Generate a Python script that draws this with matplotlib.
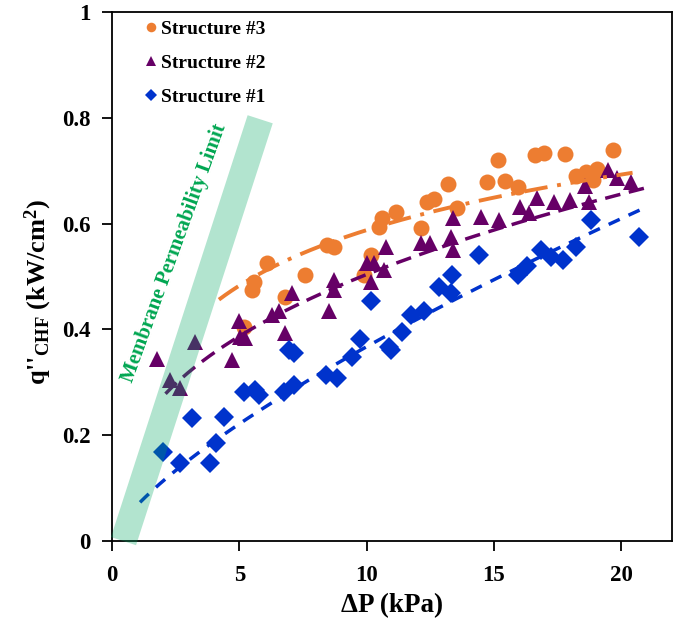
import numpy as np
import matplotlib

matplotlib.use("Agg")
import matplotlib.pyplot as plt  # noqa: E402

plt.rcParams["font.family"] = ["Liberation Serif", "DejaVu Serif"]
plt.rcParams["mathtext.default"] = "regular"

# --- data (dP in kPa, q''CHF in kW/cm2) ---
s3_x = [5.17, 5.50, 5.56, 6.09, 6.81, 7.60, 8.45, 8.71, 9.90, 10.16, 10.49, 10.62,
        11.14, 12.15, 12.39, 12.65, 13.18, 13.54, 14.75, 15.17, 15.45, 15.93,
        16.61, 16.98, 17.81, 18.23, 18.62, 18.90, 19.06, 19.70]
s3_y = [0.405, 0.474, 0.490, 0.525, 0.462, 0.503, 0.560, 0.556, 0.503, 0.540, 0.594,
        0.610, 0.622, 0.592, 0.641, 0.646, 0.674, 0.629, 0.679, 0.720, 0.680, 0.669,
        0.730, 0.733, 0.732, 0.689, 0.698, 0.682, 0.703, 0.739]

s2_x = [1.76, 2.28, 2.68, 3.27, 4.71, 4.97, 5.04, 5.24, 6.29, 6.55, 6.81, 7.07,
        8.52, 8.71, 8.71, 10.03, 10.16, 10.29, 10.68, 10.75, 12.15, 12.50, 13.31,
        13.41, 13.41, 14.49, 15.21, 16.04, 16.40, 16.69, 17.35, 18.00, 18.58,
        18.75, 19.47, 19.84, 20.39]
s2_y = [0.345, 0.304, 0.289, 0.377, 0.342, 0.415, 0.386, 0.383, 0.427, 0.434, 0.393,
        0.468, 0.434, 0.474, 0.493, 0.525, 0.490, 0.525, 0.512, 0.556, 0.563, 0.563,
        0.575, 0.610, 0.550, 0.613, 0.607, 0.632, 0.620, 0.648, 0.641, 0.645, 0.670,
        0.641, 0.701, 0.686, 0.679]

s1_x = [2.02, 2.68, 3.14, 3.86, 4.09, 4.38, 5.17, 5.63, 5.76, 6.75, 6.94, 7.14,
        7.14, 8.39, 8.85, 9.44, 9.76, 10.16, 10.88, 10.94, 11.40, 11.73, 12.26,
        12.85, 13.31, 13.37, 14.42, 15.93, 16.32, 16.85, 17.24, 17.70, 18.23,
        18.82, 20.72]
s1_y = [0.169, 0.147, 0.232, 0.147, 0.185, 0.235, 0.282, 0.285, 0.276, 0.282, 0.361,
        0.295, 0.355, 0.314, 0.308, 0.348, 0.381, 0.453, 0.367, 0.361, 0.396, 0.427,
        0.434, 0.481, 0.468, 0.503, 0.541, 0.503, 0.519, 0.550, 0.537, 0.531, 0.556,
        0.607, 0.575]

# trendlines as drawn in the reference: (kind, a, b, x_start, x_end)
#   log:   y = a + b*ln(x)      power: y = a * x**b
s3_trend = ("log", 0.239, 0.1514, 4.2, 20.45)
s2_trend = ("power", 0.210, 0.38, 2.1, 21.2)
s1_trend = ("power", 0.0684, 0.73, 1.1, 20.8)

# membrane permeability limit band (centre line)
limit_x = [0.45, 5.82]
limit_y = [0.0, 0.797]

series = [
    ("Structure #3", s3_x, s3_y, s3_trend, "o", 11.5, "#ed7d31", (0, (6, 2.5, 1, 2.5)), 2.8),
    ("Structure #2", s2_x, s2_y, s2_trend, "^", 11.5, "#660066", (0, (4.5, 2.5)), 2.5),
    ("Structure #1", s1_x, s1_y, s1_trend, "D", 10.0, "#0033cc", (0, (3.5, 2.8)), 2.5),
]

fig = plt.figure(figsize=(6.75, 6.22), dpi=100)
ax = fig.add_axes([0.166, 0.130, 0.8296, 0.851])

for label, xs, ys, trend, mk, ms, col, ls, lw in series:
    ax.plot(xs, ys, linestyle="none", marker=mk, markersize=ms, color=col,
            markeredgewidth=0, label=label, zorder=3)
    kind, a, b, x0, x1 = trend
    xf = np.linspace(x0, x1, 200)
    yf = a + b * np.log(xf) if kind == "log" else a * xf ** b
    ax.plot(xf, yf, color=col, linewidth=lw, linestyle=ls,
            dash_capstyle="butt", zorder=4)

ax.plot(limit_x, limit_y, color=(0.0, 0.66, 0.38), alpha=0.3, linewidth=19,
        solid_capstyle="butt", zorder=5, clip_on=False)
ax.text(2.45, 0.545, "Membrane Permeability Limit", rotation=70,
        rotation_mode="anchor", ha="center", va="center", color="#00a651",
        fontsize=15, fontweight="bold", zorder=6)

ax.set_xlim(0, 22)
ax.set_ylim(0, 1)
ax.set_xticks([0, 5, 10, 15, 20])
ax.set_yticks([0, 0.2, 0.4, 0.6, 0.8, 1.0])
ax.set_yticklabels(["0", "0.2", "0.4", "0.6", "0.8", "1"])
ax.tick_params(direction="out", length=7.5, width=1.3, labelsize=16.5, pad=8)
ax.tick_params(axis="x", pad=10)
for lab in ax.get_xticklabels() + ax.get_yticklabels():
    lab.set_fontweight("bold")
for sp in ax.spines.values():
    sp.set_linewidth(1.3)

ax.set_xlabel("ΔP (kPa)", fontsize=19.5, fontweight="bold")
ax.xaxis.set_label_coords(0.5, -0.098)
ax.set_ylabel("q''$_{CHF}$ (kW/cm$^{2}$)", fontsize=19, fontweight="bold")
ax.yaxis.set_label_coords(-0.104, 0.47)

leg = ax.legend(loc="upper left", bbox_to_anchor=(0.06, 0.984), frameon=False,
                prop={"weight": "bold", "size": 14}, handlelength=0.6,
                handletextpad=0.2, labelspacing=0.85, markerscale=0.6,
                borderaxespad=0, borderpad=0)

fig.savefig("out.png", dpi=100)
